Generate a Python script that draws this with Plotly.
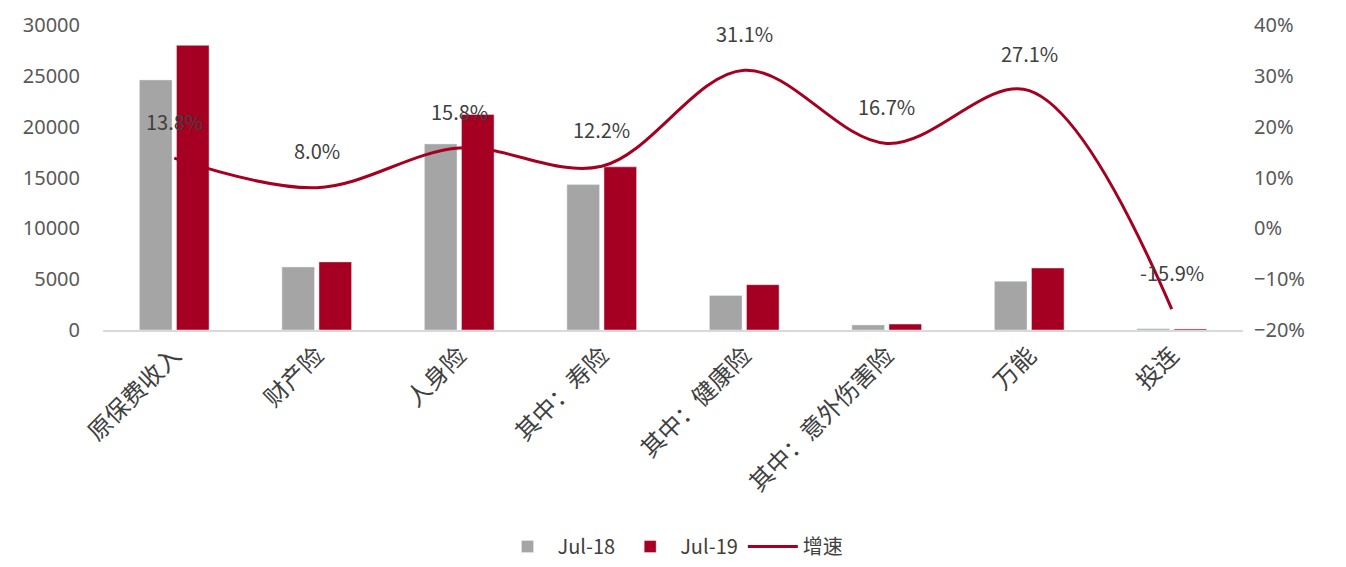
import plotly.graph_objects as go

categories = ["原保费收入", "财产险", "人身险", "其中：寿险", "其中：健康险", "其中：意外伤害险", "万能", "投连"]
jul18 = [24600, 6200, 18300, 14300, 3400, 500, 4800, 130]
jul19 = [28000, 6700, 21200, 16050, 4460, 585, 6100, 110]
growth = [0.138, 0.080, 0.158, 0.122, 0.311, 0.167, 0.271, -0.159]
growth_labels = ["13.8%", "8.0%", "15.8%", "12.2%", "31.1%", "16.7%", "27.1%", "-15.9%"]

FONT = "Noto Sans CJK SC, Open Sans, sans-serif"
NUMFONT = "Noto Sans, Open Sans, sans-serif"
GRAY = "#a5a5a5"
RED = "#a50021"

fig = go.Figure()
fig.add_trace(go.Bar(x=categories, y=jul18, name="Jul-18", marker_color=GRAY))
fig.add_trace(go.Bar(x=categories, y=jul19, name="Jul-19", marker_color=RED))
fig.add_trace(go.Scatter(x=categories, y=growth, name="增速", yaxis="y2", mode="lines",
                         line=dict(color=RED, width=3, shape="spline", smoothing=1.0)))

for c, g, t in zip(categories, growth, growth_labels):
    fig.add_annotation(x=c, y=g, yref="y2", text=t, showarrow=False, yshift=37,
                       font=dict(size=20, color="#404040", family=FONT))

fig.update_layout(
    width=1338, height=559,
    paper_bgcolor="white", plot_bgcolor="white",
    margin=dict(l=95, r=103, t=17, b=237, autoexpand=False),
    barmode="group", bargap=0.48, bargroupgap=0.12,
    font=dict(family=FONT, size=19, color="#595959"),
    xaxis=dict(showline=True, linecolor="#d9d9d9", linewidth=2, tickangle=-45, automargin=False,
               ticks="", showgrid=False, ticklabeloverflow="allow",
               tickfont=dict(size=24, color="#404040")),
    yaxis=dict(range=[0, 30000], dtick=5000, tickformat="d", showgrid=False, zeroline=False,
               automargin=False, ticklabelstandoff=22, ticklabeloverflow="allow",
               tickfont=dict(size=20, color="#595959", family=NUMFONT)),
    yaxis2=dict(range=[-0.2, 0.4], dtick=0.1, tickformat=".0%", overlaying="y", side="right",
                showgrid=False, zeroline=False, ticklabelstandoff=10, automargin=False,
                ticklabeloverflow="allow", tickfont=dict(size=20, color="#595959", family=NUMFONT)),
    legend=dict(orientation="h", x=0.5, xanchor="center", y=-0.71, yanchor="middle",
                font=dict(size=20, color="#404040"), traceorder="normal", itemwidth=50),
    showlegend=True,
)

fig.write_html("out.html")
